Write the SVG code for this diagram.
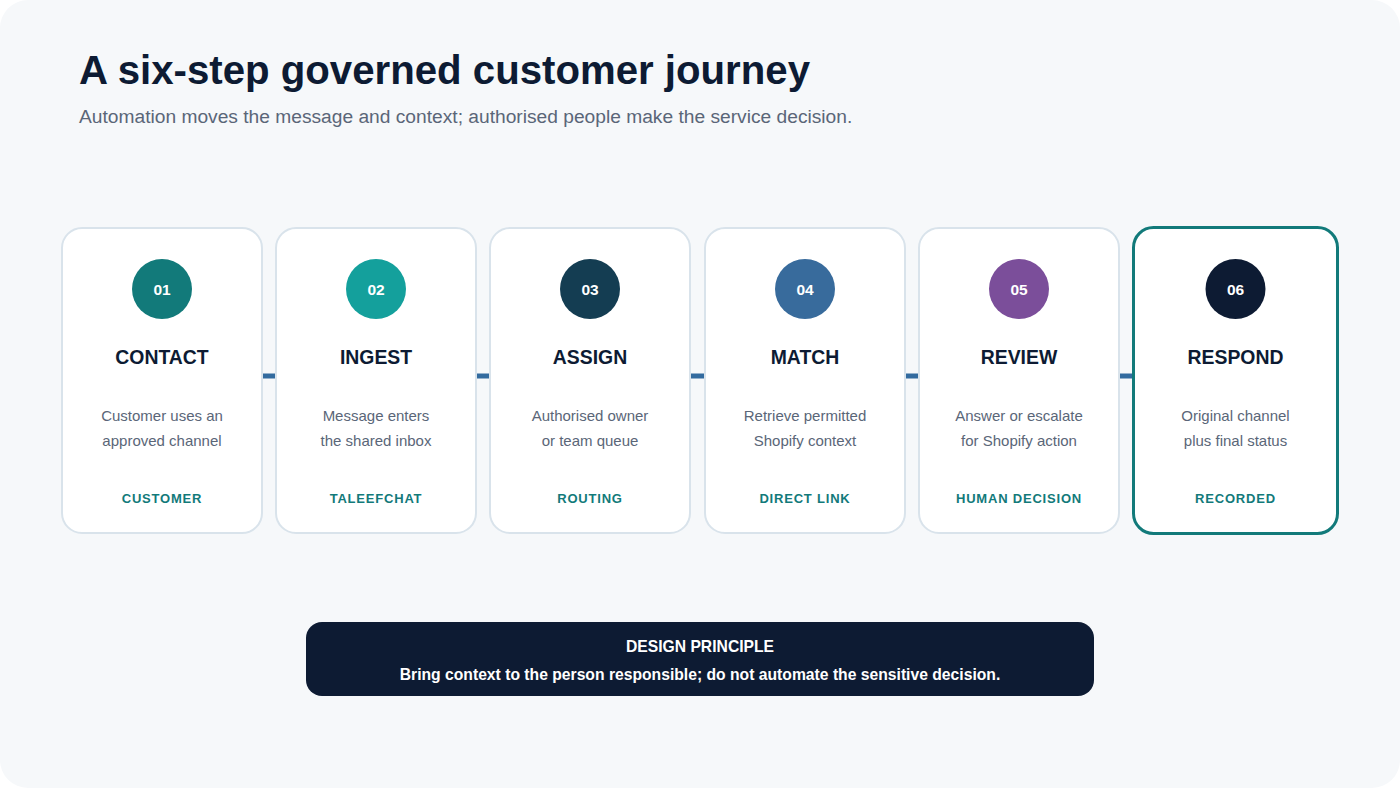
<svg xmlns="http://www.w3.org/2000/svg" width="1400" height="788" viewBox="0 0 1400 788">
  <style>
    .card { fill: #ffffff; stroke: #d9e3eb; stroke-width: 2; }
    .card-final { fill: #ffffff; stroke: #127a7a; stroke-width: 3; }
    .num { font-family: "Liberation Sans", Arial, sans-serif; font-size: 15.5px; font-weight: bold; fill: #ffffff; text-anchor: middle; }
    .ttl { font-family: "Liberation Sans", Arial, sans-serif; font-size: 19.4px; font-weight: bold; fill: #0d1b33; text-anchor: middle; }
    .desc { font-family: "Liberation Sans", Arial, sans-serif; font-size: 15px; fill: #5a6678; text-anchor: middle; }
    .tag { font-family: "Liberation Sans", Arial, sans-serif; font-size: 13px; font-weight: bold; fill: #127a7a; text-anchor: middle; letter-spacing: 0.8px; }
    .conn { stroke: #336b9f; stroke-width: 5; }
    .pr { font-family: "Liberation Sans", Arial, sans-serif; font-size: 15.7px; font-weight: bold; fill: #ffffff; text-anchor: middle; }
  </style>
  <rect x="0" y="0" width="1400" height="788" fill="#ffffff"/>
  <rect x="0" y="0" width="1400" height="788" rx="28" fill="#f6f8fa"/>

  <g id="header">
    <text x="79" y="84" font-family="Liberation Sans, Arial, sans-serif" font-size="40.2" font-weight="bold" fill="#0d1b33">A six-step governed customer journey</text>
    <text x="79" y="123" font-family="Liberation Sans, Arial, sans-serif" font-size="19.2" fill="#5a6678">Automation moves the message and context; authorised people make the service decision.</text>
  </g>

  <g id="connectors">
    <line class="conn" x1="260" y1="376" x2="278" y2="376"/>
    <line class="conn" x1="474" y1="376" x2="492" y2="376"/>
    <line class="conn" x1="688" y1="376" x2="707" y2="376"/>
    <line class="conn" x1="903" y1="376" x2="921" y2="376"/>
    <line class="conn" x1="1117" y1="376" x2="1135" y2="376"/>
  </g>

  <g id="step-01">
    <rect class="card" x="62" y="228" width="200" height="305" rx="20"/>
    <circle cx="162" cy="289" r="30" fill="#127a7a"/>
    <text class="num" x="162" y="294.5">01</text>
    <text class="ttl" x="162" y="364">CONTACT</text>
    <text class="desc" x="162" y="420.5">Customer uses an</text>
    <text class="desc" x="162" y="445.5">approved channel</text>
    <text class="tag" x="162" y="503">CUSTOMER</text>
  </g>

  <g id="step-02">
    <rect class="card" x="276" y="228" width="200" height="305" rx="20"/>
    <circle cx="376" cy="289" r="30" fill="#14a09c"/>
    <text class="num" x="376" y="294.5">02</text>
    <text class="ttl" x="376" y="364">INGEST</text>
    <text class="desc" x="376" y="420.5">Message enters</text>
    <text class="desc" x="376" y="445.5">the shared inbox</text>
    <text class="tag" x="376" y="503">TALEEFCHAT</text>
  </g>

  <g id="step-03">
    <rect class="card" x="490" y="228" width="200" height="305" rx="20"/>
    <circle cx="590" cy="289" r="30" fill="#143d52"/>
    <text class="num" x="590" y="294.5">03</text>
    <text class="ttl" x="590" y="364">ASSIGN</text>
    <text class="desc" x="590" y="420.5">Authorised owner</text>
    <text class="desc" x="590" y="445.5">or team queue</text>
    <text class="tag" x="590" y="503">ROUTING</text>
  </g>

  <g id="step-04">
    <rect class="card" x="705" y="228" width="200" height="305" rx="20"/>
    <circle cx="805" cy="289" r="30" fill="#386b9c"/>
    <text class="num" x="805" y="294.5">04</text>
    <text class="ttl" x="805" y="364">MATCH</text>
    <text class="desc" x="805" y="420.5">Retrieve permitted</text>
    <text class="desc" x="805" y="445.5">Shopify context</text>
    <text class="tag" x="805" y="503">DIRECT LINK</text>
  </g>

  <g id="step-05">
    <rect class="card" x="919" y="228" width="200" height="305" rx="20"/>
    <circle cx="1019" cy="289" r="30" fill="#7b4e9a"/>
    <text class="num" x="1019" y="294.5">05</text>
    <text class="ttl" x="1019" y="364">REVIEW</text>
    <text class="desc" x="1019" y="420.5">Answer or escalate</text>
    <text class="desc" x="1019" y="445.5">for Shopify action</text>
    <text class="tag" x="1019" y="503">HUMAN DECISION</text>
  </g>

  <g id="step-06">
    <rect class="card-final" x="1133.5" y="227.5" width="204" height="306" rx="20"/>
    <circle cx="1235.5" cy="289" r="30" fill="#0d1b33"/>
    <text class="num" x="1235.5" y="294.5">06</text>
    <text class="ttl" x="1235.5" y="364">RESPOND</text>
    <text class="desc" x="1235.5" y="420.5">Original channel</text>
    <text class="desc" x="1235.5" y="445.5">plus final status</text>
    <text class="tag" x="1235.5" y="503">RECORDED</text>
  </g>

  <g id="principle">
    <rect x="306" y="622" width="788" height="74" rx="16" fill="#0d1b33"/>
    <text class="pr" x="700" y="652">DESIGN PRINCIPLE</text>
    <text class="pr" x="700" y="680">Bring context to the person responsible; do not automate the sensitive decision.</text>
  </g>
</svg>
